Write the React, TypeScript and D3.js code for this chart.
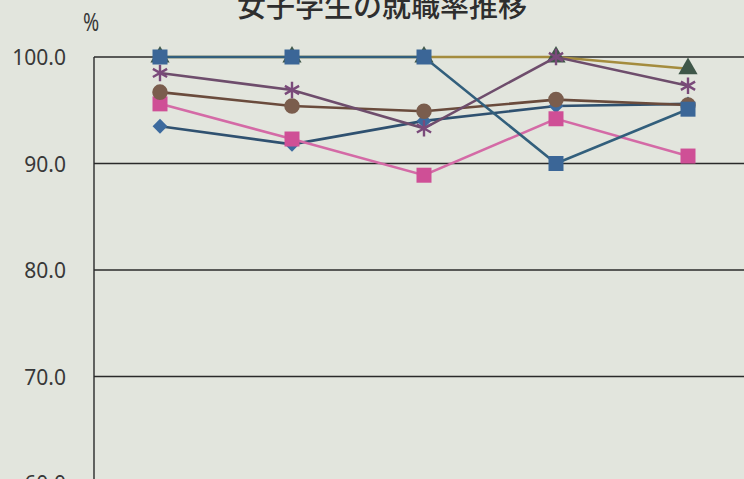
import { useRef, useEffect } from 'react';
import * as d3 from 'd3';

const title = '女子学生の就職率推移';
const years = ['2010', '2011', '2012', '2013', '2014'];
const yTicks = [60, 70, 80, 90, 100];

const triangleSeries = [100, 100, 100, 100, 98.9];
const diamondSeries = [93.5, 91.8, 94.0, 95.4, 95.6];
const pinkSeries = [95.6, 92.3, 88.9, 94.2, 90.7];
const circleSeries = [96.7, 95.4, 94.9, 96.0, 95.5];
const asteriskSeries = [98.5, 96.9, 93.3, 100, 97.3];
const squareSeries = [100, 100, 100, 90.0, 95.1];

interface Series {
  values: number[];
  line: string;
  fill: string;
  symbol: d3.SymbolType;
  size: number;
  rotate?: number;
  stroke?: boolean;
}

export default function App() {
  const svgRef = useRef<SVGSVGElement>(null);

  useEffect(() => {
    document.body.style.margin = '0';
    if (!svgRef.current) return;
    const svg = d3.select(svgRef.current);
    svg.selectAll('*').remove();

    const width = 744;
    const height = 479;
    const left = 94;

    svg.attr('viewBox', `0 0 ${width} ${height}`);

    svg.append('rect').attr('width', width).attr('height', height).attr('fill', '#e2e5dd');

    const x = d3.scaleBand<string>().domain(years).range([left, left + 132 * years.length]);
    const y = d3.scaleLinear().domain([60, 100]).range([483, 57]);
    const cx = (i: number) => x(years[i])! + x.bandwidth() / 2;

    // Grid lines
    svg.append('g')
      .selectAll('line')
      .data(yTicks)
      .join('line')
      .attr('x1', left).attr('x2', width)
      .attr('y1', (d) => y(d)).attr('y2', (d) => y(d))
      .attr('stroke', '#2a2a2a')
      .attr('stroke-width', 1.4);

    // Left axis line
    svg.append('line')
      .attr('x1', left).attr('x2', left)
      .attr('y1', y(100)).attr('y2', height)
      .attr('stroke', '#2a2a2a')
      .attr('stroke-width', 1.4);

    // Tick labels
    svg.append('g')
      .selectAll('text')
      .data(yTicks)
      .join('text')
      .attr('x', 66)
      .attr('y', (d) => y(d) + 8)
      .attr('text-anchor', 'end')
      .attr('fill', '#383838')
      .style('font-family', '"Noto Sans", sans-serif')
      .style('font-size', '21px')
      .text((d) => d.toFixed(1));

    svg.append('text')
      .attr('transform', 'translate(91,31) scale(0.75,1)')
      .attr('text-anchor', 'middle')
      .attr('fill', '#383838')
      .style('font-family', '"Noto Sans", sans-serif')
      .style('font-size', '26px')
      .text('%');

    svg.append('text')
      .attr('x', 382).attr('y', 17)
      .attr('text-anchor', 'middle')
      .attr('fill', '#2e2e2e')
      .style('font-family', '"Noto Sans CJK JP", sans-serif')
      .style('font-size', '29px')
      .style('font-weight', 500)
      .text(title);

    const series: Series[] = [
      { values: triangleSeries, line: '#a48c3e', fill: '#3f5749', symbol: d3.symbolTriangle, size: 160 },
      { values: diamondSeries, line: '#2f5170', fill: '#3c6a9e', symbol: d3.symbolSquare, size: 110, rotate: 45 },
      { values: pinkSeries, line: '#d46aa6', fill: '#cf4f96', symbol: d3.symbolSquare, size: 225 },
      { values: circleSeries, line: '#6a4b3c', fill: '#7a5d4d', symbol: d3.symbolCircle, size: 190 },
      { values: asteriskSeries, line: '#6e4d6c', fill: '#7a4a7a', symbol: d3.symbolAsterisk, size: 190, stroke: true },
      { values: squareSeries, line: '#325f7c', fill: '#3b6697', symbol: d3.symbolSquare, size: 225 },
    ];

    const lineFn = d3.line<number>()
      .x((_, i) => cx(i))
      .y((d) => y(d));

    series.forEach((s) => {
      svg.append('path')
        .datum(s.values)
        .attr('d', lineFn)
        .attr('fill', 'none')
        .attr('stroke', s.line)
        .attr('stroke-width', 2.6);

      svg.append('g')
        .selectAll('path')
        .data(s.values)
        .join('path')
        .attr('transform', (d, i) => `translate(${cx(i)},${y(d)}) rotate(${s.rotate ?? 0})`)
        .attr('d', d3.symbol().type(s.symbol).size(s.size)())
        .attr('fill', s.stroke ? 'none' : s.fill)
        .attr('stroke', s.stroke ? s.fill : 'none')
        .attr('stroke-width', s.stroke ? 2.4 : 0);
    });
  }, []);

  return <svg ref={svgRef} width={744} height={479} style={{ display: 'block' }} />;
}
